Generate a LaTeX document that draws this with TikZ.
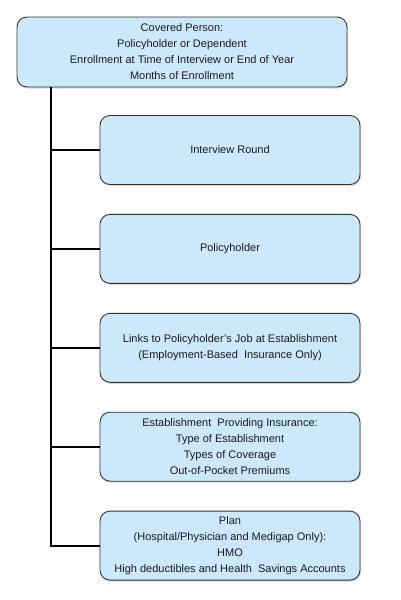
\documentclass[tikz,border=0pt]{standalone}
\usepackage{fontspec}
\setmainfont{Liberation Sans}
\usetikzlibrary{positioning,shadows}

\definecolor{boxfill}{HTML}{CCE9FB}
\definecolor{boxline}{HTML}{333333}
\definecolor{boxtext}{HTML}{1A1A1A}

\tikzset{
	infobox/.style={draw=boxline, line width=0.9pt, fill=boxfill, rounded corners=10pt,
		align=center, text=boxtext, font=\fontsize{11}{16}\selectfont, inner sep=0pt,
		drop shadow={shadow xshift=1pt, shadow yshift=-1.5pt, opacity=0.3}},
	topbox/.style={infobox, minimum width=330pt, minimum height=70pt},
	subbox/.style={infobox, minimum width=260pt, minimum height=69pt},
	branch/.style={line width=2pt, black}
}

\begin{document}
\begin{tikzpicture}[x=1pt,y=-1pt]
	\useasboundingbox (0,0) rectangle (400,600);
	
	%TOP BOX
	\node[topbox] (person) at (182,52) {Covered Person:\\Policyholder or Dependent\\Enrollment at Time of Interview or End of Year\\Months of Enrollment};
	
	%CHILD BOXES
	\node[subbox] (round) at (230,150) {Interview Round};
	\node[subbox, below=29pt of round] (holder) {Policyholder};
	\node[subbox, below=29pt of holder] (links) {Links to Policyholder's Job at Establishment\\(Employment-Based\ \ Insurance Only)};
	\node[subbox, below=29pt of links] (estab) {Establishment\ \ Providing Insurance:\\Type of Establishment\\Types of Coverage\\Out-of-Pocket Premiums};
	\node[subbox, below=29pt of estab] (plan) {Plan\\(Hospital/Physician and Medigap Only):\\HMO\\High deductibles and Health\ \ Savings Accounts};
	
	%TRUNK
	\coordinate (trunktop) at (51,0 |- person.south);
	\coordinate (trunkend) at (51,0 |- plan.west);
	\draw[branch] (trunktop) -- (trunkend) -- (plan.west);
	\foreach \b in {round,holder,links,estab}
		\draw[branch] (trunktop |- \b.west) -- (\b.west);
\end{tikzpicture}
\end{document}
